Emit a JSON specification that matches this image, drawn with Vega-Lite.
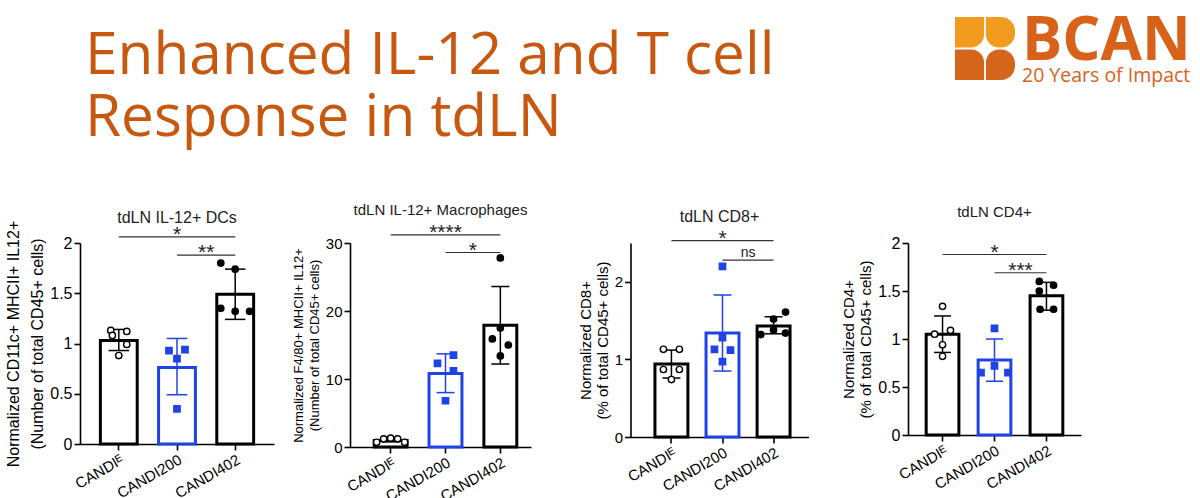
{
  "$schema": "https://vega.github.io/schema/vega-lite/v6.json",
  "background": "white",
  "padding": {"top": 11, "left": 5, "right": 5, "bottom": 0},
  "bounds": "flush",
  "spacing": 226,
  "config": {
    "view": {"stroke": null},
    "font": "Liberation Sans",
    "title": {"fontWeight": "normal", "fontSize": 16, "color": "#222222", "font": "Liberation Sans"},
    "axis": {"domainColor": "black", "domainWidth": 1.6, "tickColor": "black", "tickWidth": 1.6, "tickSize": 6, "labelColor": "black", "titleColor": "black", "grid": false, "labelFont": "Liberation Sans", "titleFont": "Liberation Sans", "titleFontWeight": "normal", "labelOverlap": false}
  },
  "datasets": {
    "bars": [
      {"panel": 1, "group": "CANDIᴱ", "mean": 1.03, "lo": 0.93, "hi": 1.14},
      {"panel": 1, "group": "CANDI200", "mean": 0.76, "lo": 0.49, "hi": 1.05},
      {"panel": 1, "group": "CANDI402", "mean": 1.49, "lo": 1.24, "hi": 1.74},
      {"panel": 2, "group": "CANDIᴱ", "mean": 0.95, "lo": 0.75, "hi": 1.15},
      {"panel": 2, "group": "CANDI200", "mean": 10.8, "lo": 8.0, "hi": 13.7},
      {"panel": 2, "group": "CANDI402", "mean": 17.9, "lo": 12.2, "hi": 23.6},
      {"panel": 3, "group": "CANDIᴱ", "mean": 0.94, "lo": 0.76, "hi": 1.12},
      {"panel": 3, "group": "CANDI200", "mean": 1.34, "lo": 0.85, "hi": 1.83},
      {"panel": 3, "group": "CANDI402", "mean": 1.43, "lo": 1.33, "hi": 1.55},
      {"panel": 4, "group": "CANDIᴱ", "mean": 1.05, "lo": 0.86, "hi": 1.24},
      {"panel": 4, "group": "CANDI200", "mean": 0.78, "lo": 0.56, "hi": 1.0},
      {"panel": 4, "group": "CANDI402", "mean": 1.45, "lo": 1.3, "hi": 1.59}
    ],
    "pts": [
      {"panel": 1, "group": "CANDIᴱ", "slot": -1, "value": 1.13},
      {"panel": 1, "group": "CANDIᴱ", "slot": -0.8, "value": 1.08},
      {"panel": 1, "group": "CANDIᴱ", "slot": 1, "value": 1.12},
      {"panel": 1, "group": "CANDIᴱ", "slot": 1, "value": 0.99},
      {"panel": 1, "group": "CANDIᴱ", "slot": 0, "value": 0.88},
      {"panel": 1, "group": "CANDI200", "slot": -1, "value": 0.93},
      {"panel": 1, "group": "CANDI200", "slot": 1, "value": 0.94},
      {"panel": 1, "group": "CANDI200", "slot": 0, "value": 0.85},
      {"panel": 1, "group": "CANDI200", "slot": 0, "value": 0.35},
      {"panel": 1, "group": "CANDI402", "slot": -1.8, "value": 1.8},
      {"panel": 1, "group": "CANDI402", "slot": 0, "value": 1.74},
      {"panel": 1, "group": "CANDI402", "slot": -1.8, "value": 1.35},
      {"panel": 1, "group": "CANDI402", "slot": 0, "value": 1.32},
      {"panel": 1, "group": "CANDI402", "slot": 1.8, "value": 1.32},
      {"panel": 2, "group": "CANDIᴱ", "slot": -1.75, "value": 0.7},
      {"panel": 2, "group": "CANDIᴱ", "slot": -0.875, "value": 1.2},
      {"panel": 2, "group": "CANDIᴱ", "slot": 0, "value": 1.3},
      {"panel": 2, "group": "CANDIᴱ", "slot": 0.875, "value": 1.2},
      {"panel": 2, "group": "CANDIᴱ", "slot": 1.75, "value": 0.7},
      {"panel": 2, "group": "CANDI200", "slot": -1, "value": 12.3},
      {"panel": 2, "group": "CANDI200", "slot": 1, "value": 13.5},
      {"panel": 2, "group": "CANDI200", "slot": 1, "value": 11.2},
      {"panel": 2, "group": "CANDI200", "slot": 0, "value": 6.8},
      {"panel": 2, "group": "CANDI402", "slot": 0, "value": 27.8},
      {"panel": 2, "group": "CANDI402", "slot": 0, "value": 17.5},
      {"panel": 2, "group": "CANDI402", "slot": -1, "value": 15.9},
      {"panel": 2, "group": "CANDI402", "slot": 1, "value": 15.0},
      {"panel": 2, "group": "CANDI402", "slot": 0, "value": 13.4},
      {"panel": 3, "group": "CANDIᴱ", "slot": -1, "value": 1.13},
      {"panel": 3, "group": "CANDIᴱ", "slot": 1, "value": 1.13},
      {"panel": 3, "group": "CANDIᴱ", "slot": -1, "value": 0.87},
      {"panel": 3, "group": "CANDIᴱ", "slot": 1, "value": 0.87},
      {"panel": 3, "group": "CANDIᴱ", "slot": 0, "value": 0.74},
      {"panel": 3, "group": "CANDI200", "slot": 0, "value": 2.2},
      {"panel": 3, "group": "CANDI200", "slot": 0, "value": 1.28},
      {"panel": 3, "group": "CANDI200", "slot": -1, "value": 1.13},
      {"panel": 3, "group": "CANDI200", "slot": 1, "value": 1.12},
      {"panel": 3, "group": "CANDI200", "slot": 0, "value": 0.97},
      {"panel": 3, "group": "CANDI402", "slot": 1.5, "value": 1.61},
      {"panel": 3, "group": "CANDI402", "slot": 0, "value": 1.52},
      {"panel": 3, "group": "CANDI402", "slot": -1.6, "value": 1.32},
      {"panel": 3, "group": "CANDI402", "slot": 0, "value": 1.38},
      {"panel": 3, "group": "CANDI402", "slot": 1.5, "value": 1.34},
      {"panel": 4, "group": "CANDIᴱ", "slot": 0, "value": 1.34},
      {"panel": 4, "group": "CANDIᴱ", "slot": -1, "value": 1.05},
      {"panel": 4, "group": "CANDIᴱ", "slot": 1, "value": 1.09},
      {"panel": 4, "group": "CANDIᴱ", "slot": 0, "value": 0.94},
      {"panel": 4, "group": "CANDIᴱ", "slot": 0, "value": 0.82},
      {"panel": 4, "group": "CANDI200", "slot": 0, "value": 1.11},
      {"panel": 4, "group": "CANDI200", "slot": 0, "value": 0.72},
      {"panel": 4, "group": "CANDI200", "slot": -1.7, "value": 0.65},
      {"panel": 4, "group": "CANDI200", "slot": 1.7, "value": 0.65},
      {"panel": 4, "group": "CANDI402", "slot": -0.9, "value": 1.6},
      {"panel": 4, "group": "CANDI402", "slot": 0.9, "value": 1.56},
      {"panel": 4, "group": "CANDI402", "slot": -0.9, "value": 1.5},
      {"panel": 4, "group": "CANDI402", "slot": -0.8, "value": 1.31},
      {"panel": 4, "group": "CANDI402", "slot": 0.9, "value": 1.31}
    ],
    "sig": [
      {"panel": 1, "a": "CANDIᴱ", "b": "CANDI402", "m": "CANDI200", "y": 2.06, "label": "*", "kind": "full"},
      {"panel": 1, "a": "CANDI200", "b": "CANDI402", "m": "CANDI200", "y": 1.88, "label": "**", "kind": "half"},
      {"panel": 2, "a": "CANDIᴱ", "b": "CANDI402", "m": "CANDI200", "y": 31.2, "label": "****", "kind": "full"},
      {"panel": 2, "a": "CANDI200", "b": "CANDI402", "m": "CANDI200", "y": 28.6, "label": "*", "kind": "half"},
      {"panel": 3, "a": "CANDIᴱ", "b": "CANDI402", "m": "CANDI200", "y": 2.53, "label": "*", "kind": "full"},
      {"panel": 3, "a": "CANDI200", "b": "CANDI402", "m": "CANDI200", "y": 2.28, "label": "ns", "kind": "half"},
      {"panel": 4, "a": "CANDIᴱ", "b": "CANDI402", "m": "CANDI200", "y": 1.88, "label": "*", "kind": "full"},
      {"panel": 4, "a": "CANDI200", "b": "CANDI402", "m": "CANDI200", "y": 1.69, "label": "***", "kind": "half"}
    ],
    "logo": [
      {"r": "a", "c": "a", "tone": "light", "pos": "tl"},
      {"r": "a", "c": "b", "tone": "light", "pos": "tr"},
      {"r": "b", "c": "a", "tone": "dark", "pos": "bl"},
      {"r": "b", "c": "b", "tone": "dark", "pos": "br"}
    ]
  },
  "vconcat": [
    {
      "bounds": "flush",
      "spacing": 10,
      "hconcat": [
        {
          "width": 865, "height": 63,
          "data": {"values": []},
          "mark": "text",
          "title": {"text": ["Enhanced IL-12 and T cell", "Response in tdLN"], "anchor": "start", "frame": "group", "baseline": "top", "offset": 0, "dy": 131, "dx": 5, "fontSize": 58.5, "lineHeight": 62, "color": "#C8580F", "font": "Open Sans", "fontWeight": "normal"}
        },
        {
          "width": 60, "height": 63,
          "data": {"name": "logo"},
          "encoding": {
            "x": {"field": "c", "type": "nominal", "axis": null, "scale": {"paddingInner": 0.06, "paddingOuter": 0}},
            "y": {"field": "r", "type": "nominal", "axis": null, "scale": {"paddingInner": 0.06, "paddingOuter": 0}},
            "color": {"field": "tone", "type": "nominal", "scale": {"domain": ["light", "dark"], "range": ["#F39B1F", "#D5651B"]}, "legend": null}
          },
          "layer": [
            {"transform": [{"filter": "datum.pos == 'tl'"}], "mark": {"type": "rect", "cornerRadiusBottomRight": 13}},
            {"transform": [{"filter": "datum.pos == 'tr'"}], "mark": {"type": "rect", "cornerRadiusBottomLeft": 13, "cornerRadiusTopRight": 14, "cornerRadiusBottomRight": 14}},
            {"transform": [{"filter": "datum.pos == 'bl'"}], "mark": {"type": "rect", "cornerRadiusTopRight": 13}},
            {"transform": [{"filter": "datum.pos == 'br'"}], "mark": {"type": "rect", "cornerRadiusTopLeft": 13, "cornerRadiusTopRight": 14, "cornerRadiusBottomRight": 14}}
          ]
        },
        {
          "width": 160, "height": 63,
          "data": {"values": []},
          "mark": "text",
          "title": {"text": "BCAN", "subtitle": "20 Years of Impact", "anchor": "start", "frame": "group", "baseline": "top", "offset": 0, "dy": 69, "dx": -3, "fontSize": 60, "fontWeight": "bold", "color": "#D9621B", "font": "Open Sans", "subtitleFont": "Open Sans", "subtitleFontSize": 19.5, "subtitleColor": "#D9621B", "subtitlePadding": -6}
        }
      ]
    },
    {
      "bounds": "flush",
      "spacing": 76,
      "hconcat": [
        {
          "width": 194, "height": 201,
          "title": {"text": "tdLN IL-12+ DCs", "offset": -6},
          "resolve": {"scale": {"xOffset": "independent"}},
          "layer": [
            {"data": {"name": "bars"}, "transform": [{"filter": "datum.panel == 1"}],
             "mark": {"type": "bar", "fill": "white", "strokeWidth": 3},
             "encoding": {
               "x": {"field": "group", "type": "nominal", "sort": ["CANDIᴱ", "CANDI200", "CANDI402"], "scale": {"domain": ["CANDIᴱ", "CANDI200", "CANDI402"], "paddingInner": 0.367, "paddingOuter": 0.35, "align": 0.5}, "axis": {"title": null, "labelAngle": -30, "labelFontSize": 15}},
               "y": {"field": "mean", "type": "quantitative", "scale": {"domain": [0, 2], "nice": false}, "axis": {"title": ["Normalized CD11c+ MHCII+ IL12+", "(Number of total CD45+ cells)"], "values": [0, 0.5, 1, 1.5, 2], "format": "~g", "labelFontSize": 16, "titleFontSize": 16, "titleLineHeight": 24}},
               "stroke": {"field": "group", "type": "nominal", "scale": {"domain": ["CANDIᴱ", "CANDI200", "CANDI402"], "range": ["#000000", "#1f43e5", "#000000"]}, "legend": null}
             }},
            {"data": {"name": "bars"}, "transform": [{"filter": "datum.panel == 1"}],
             "mark": {"type": "rule", "strokeWidth": 1.5},
             "encoding": {"x": {"field": "group", "type": "nominal"}, "y": {"field": "lo", "type": "quantitative"}, "y2": {"field": "hi"}, "stroke": {"field": "group", "type": "nominal", "legend": null}}},
            {"data": {"name": "bars"}, "transform": [{"filter": "datum.panel == 1"}],
             "mark": {"type": "point", "shape": "stroke", "size": 420, "strokeWidth": 1.5, "filled": false, "opacity": 1},
             "encoding": {"x": {"field": "group", "type": "nominal"}, "y": {"field": "hi", "type": "quantitative"}, "stroke": {"field": "group", "type": "nominal", "legend": null}}},
            {"data": {"name": "bars"}, "transform": [{"filter": "datum.panel == 1"}],
             "mark": {"type": "point", "shape": "stroke", "size": 420, "strokeWidth": 1.5, "filled": false, "opacity": 1},
             "encoding": {"x": {"field": "group", "type": "nominal"}, "y": {"field": "lo", "type": "quantitative"}, "stroke": {"field": "group", "type": "nominal", "legend": null}}},
            {"data": {"name": "pts"}, "transform": [{"filter": "datum.panel == 1"}],
             "mark": {"type": "point", "filled": true, "size": 40, "strokeWidth": 1.4, "opacity": 1},
             "encoding": {
               "x": {"field": "group", "type": "nominal"},
               "xOffset": {"field": "slot", "type": "quantitative", "scale": {"domain": [-2.3, 2.3], "range": [0, 36.8]}},
               "y": {"field": "value", "type": "quantitative"},
               "shape": {"field": "group", "type": "nominal", "scale": {"domain": ["CANDIᴱ", "CANDI200", "CANDI402"], "range": ["circle", "square", "circle"]}, "legend": null},
               "fill": {"field": "group", "type": "nominal", "scale": {"domain": ["CANDIᴱ", "CANDI200", "CANDI402"], "range": ["#ffffff", "#1f43e5", "#000000"]}, "legend": null},
               "stroke": {"field": "group", "type": "nominal", "legend": null}
             }},
            {"data": {"name": "sig"}, "transform": [{"filter": "datum.panel == 1"}],
             "mark": {"type": "rule", "strokeWidth": 1.2, "color": "#333333"},
             "encoding": {"x": {"field": "a", "type": "nominal"}, "x2": {"field": "b"}, "y": {"field": "y", "type": "quantitative"}}},
            {"data": {"name": "sig"}, "transform": [{"filter": "datum.panel == 1 && datum.kind == 'full'"}],
             "mark": {"type": "text", "fontSize": 21, "baseline": "alphabetic", "dy": 4, "color": "#222222"},
             "encoding": {"x": {"field": "m", "type": "nominal"}, "y": {"field": "y", "type": "quantitative"}, "text": {"field": "label"}}},
            {"data": {"name": "sig"}, "transform": [{"filter": "datum.panel == 1 && datum.kind == 'half'"}],
             "mark": {"type": "text", "fontSize": 21, "baseline": "alphabetic", "dy": 4, "color": "#222222"},
             "encoding": {"x": {"field": "m", "type": "nominal", "bandPosition": 1.294}, "y": {"field": "y", "type": "quantitative"}, "text": {"field": "label"}}}
          ]
        },
        {
          "bounds": "flush",
          "spacing": 99.5,
          "hconcat": [
            {
              "width": 181, "height": 204,
              "title": {"text": "tdLN IL-12+ Macrophages", "offset": 4, "fontSize": 15},
              "resolve": {"scale": {"xOffset": "independent"}},
              "layer": [
                {"data": {"name": "bars"}, "transform": [{"filter": "datum.panel == 2"}],
                 "mark": {"type": "bar", "fill": "white", "strokeWidth": 3},
                 "encoding": {
                   "x": {"field": "group", "type": "nominal", "sort": ["CANDIᴱ", "CANDI200", "CANDI402"], "scale": {"domain": ["CANDIᴱ", "CANDI200", "CANDI402"], "paddingInner": 0.4, "paddingOuter": 0.35, "align": 0.63}, "axis": {"title": null, "labelAngle": -30, "labelFontSize": 15}},
                   "y": {"field": "mean", "type": "quantitative", "scale": {"domain": [0, 30], "nice": false}, "axis": {"title": ["Normalized F4/80+ MHCII+ IL12+", "(Number of total CD45+ cells)"], "values": [0, 10, 20, 30], "format": "~g", "labelFontSize": 15, "titleFontSize": 13, "titleLineHeight": 16}},
                   "stroke": {"field": "group", "type": "nominal", "scale": {"domain": ["CANDIᴱ", "CANDI200", "CANDI402"], "range": ["#000000", "#1f43e5", "#000000"]}, "legend": null}
                 }},
                {"data": {"name": "bars"}, "transform": [{"filter": "datum.panel == 2"}],
                 "mark": {"type": "rule", "strokeWidth": 1.5},
                 "encoding": {"x": {"field": "group", "type": "nominal"}, "y": {"field": "lo", "type": "quantitative"}, "y2": {"field": "hi"}, "stroke": {"field": "group", "type": "nominal", "legend": null}}},
                {"data": {"name": "bars"}, "transform": [{"filter": "datum.panel == 2"}],
                 "mark": {"type": "point", "shape": "stroke", "size": 324, "strokeWidth": 1.5, "filled": false, "opacity": 1},
                 "encoding": {"x": {"field": "group", "type": "nominal"}, "y": {"field": "hi", "type": "quantitative"}, "stroke": {"field": "group", "type": "nominal", "legend": null}}},
                {"data": {"name": "bars"}, "transform": [{"filter": "datum.panel == 2"}],
                 "mark": {"type": "point", "shape": "stroke", "size": 324, "strokeWidth": 1.5, "filled": false, "opacity": 1},
                 "encoding": {"x": {"field": "group", "type": "nominal"}, "y": {"field": "lo", "type": "quantitative"}, "stroke": {"field": "group", "type": "nominal", "legend": null}}},
                {"data": {"name": "pts"}, "transform": [{"filter": "datum.panel == 2"}],
                 "mark": {"type": "point", "filled": true, "size": 40, "strokeWidth": 1.4, "opacity": 1},
                 "encoding": {
                   "x": {"field": "group", "type": "nominal"},
                   "xOffset": {"field": "slot", "type": "quantitative", "scale": {"domain": [-2.06, 2.06], "range": [0, 32.9]}},
                   "y": {"field": "value", "type": "quantitative"},
                   "shape": {"field": "group", "type": "nominal", "scale": {"domain": ["CANDIᴱ", "CANDI200", "CANDI402"], "range": ["circle", "square", "circle"]}, "legend": null},
                   "fill": {"field": "group", "type": "nominal", "scale": {"domain": ["CANDIᴱ", "CANDI200", "CANDI402"], "range": ["#ffffff", "#1f43e5", "#000000"]}, "legend": null},
                   "stroke": {"field": "group", "type": "nominal", "legend": null}
                 }},
                {"data": {"name": "sig"}, "transform": [{"filter": "datum.panel == 2"}],
                 "mark": {"type": "rule", "strokeWidth": 1.2, "color": "#333333"},
                 "encoding": {"x": {"field": "a", "type": "nominal"}, "x2": {"field": "b"}, "y": {"field": "y", "type": "quantitative"}}},
                {"data": {"name": "sig"}, "transform": [{"filter": "datum.panel == 2 && datum.kind == 'full'"}],
                 "mark": {"type": "text", "fontSize": 21, "baseline": "alphabetic", "dy": 4, "color": "#222222"},
                 "encoding": {"x": {"field": "m", "type": "nominal"}, "y": {"field": "y", "type": "quantitative"}, "text": {"field": "label"}}},
                {"data": {"name": "sig"}, "transform": [{"filter": "datum.panel == 2 && datum.kind == 'half'"}],
                 "mark": {"type": "text", "fontSize": 21, "baseline": "alphabetic", "dy": 4, "color": "#222222"},
                 "encoding": {"x": {"field": "m", "type": "nominal", "bandPosition": 1.333}, "y": {"field": "y", "type": "quantitative"}, "text": {"field": "label"}}}
              ]
            },
            {
              "width": 178, "height": 194,
              "title": {"text": "tdLN CD8+", "offset": 3},
              "resolve": {"scale": {"xOffset": "independent"}},
              "layer": [
                {"data": {"name": "bars"}, "transform": [{"filter": "datum.panel == 3"}],
                 "mark": {"type": "bar", "fill": "white", "strokeWidth": 3},
                 "encoding": {
                   "x": {"field": "group", "type": "nominal", "sort": ["CANDIᴱ", "CANDI200", "CANDI402"], "scale": {"domain": ["CANDIᴱ", "CANDI200", "CANDI402"], "paddingInner": 0.355, "paddingOuter": 0.42, "align": 0.57}, "axis": {"title": null, "labelAngle": -30, "labelFontSize": 15}},
                   "y": {"field": "mean", "type": "quantitative", "scale": {"domain": [0, 2.5], "nice": false}, "axis": {"title": ["Normalized CD8+", "(% of total CD45+ cells)"], "values": [0, 0.5, 1, 1.5, 2, 2.5], "format": "~g", "labelFontSize": 15, "titleFontSize": 15, "titleLineHeight": 17}},
                   "stroke": {"field": "group", "type": "nominal", "scale": {"domain": ["CANDIᴱ", "CANDI200", "CANDI402"], "range": ["#000000", "#1f43e5", "#000000"]}, "legend": null}
                 }},
                {"data": {"name": "bars"}, "transform": [{"filter": "datum.panel == 3"}],
                 "mark": {"type": "rule", "strokeWidth": 1.5},
                 "encoding": {"x": {"field": "group", "type": "nominal"}, "y": {"field": "lo", "type": "quantitative"}, "y2": {"field": "hi"}, "stroke": {"field": "group", "type": "nominal", "legend": null}}},
                {"data": {"name": "bars"}, "transform": [{"filter": "datum.panel == 3"}],
                 "mark": {"type": "point", "shape": "stroke", "size": 324, "strokeWidth": 1.5, "filled": false, "opacity": 1},
                 "encoding": {"x": {"field": "group", "type": "nominal"}, "y": {"field": "hi", "type": "quantitative"}, "stroke": {"field": "group", "type": "nominal", "legend": null}}},
                {"data": {"name": "bars"}, "transform": [{"filter": "datum.panel == 3"}],
                 "mark": {"type": "point", "shape": "stroke", "size": 324, "strokeWidth": 1.5, "filled": false, "opacity": 1},
                 "encoding": {"x": {"field": "group", "type": "nominal"}, "y": {"field": "lo", "type": "quantitative"}, "stroke": {"field": "group", "type": "nominal", "legend": null}}},
                {"data": {"name": "pts"}, "transform": [{"filter": "datum.panel == 3"}],
                 "mark": {"type": "point", "filled": true, "size": 40, "strokeWidth": 1.4, "opacity": 1},
                 "encoding": {
                   "x": {"field": "group", "type": "nominal"},
                   "xOffset": {"field": "slot", "type": "quantitative", "scale": {"domain": [-2.06, 2.06], "range": [0, 32.9]}},
                   "y": {"field": "value", "type": "quantitative"},
                   "shape": {"field": "group", "type": "nominal", "scale": {"domain": ["CANDIᴱ", "CANDI200", "CANDI402"], "range": ["circle", "square", "circle"]}, "legend": null},
                   "fill": {"field": "group", "type": "nominal", "scale": {"domain": ["CANDIᴱ", "CANDI200", "CANDI402"], "range": ["#ffffff", "#1f43e5", "#000000"]}, "legend": null},
                   "stroke": {"field": "group", "type": "nominal", "legend": null}
                 }},
                {"data": {"name": "sig"}, "transform": [{"filter": "datum.panel == 3"}],
                 "mark": {"type": "rule", "strokeWidth": 1.2, "color": "#333333"},
                 "encoding": {"x": {"field": "a", "type": "nominal"}, "x2": {"field": "b"}, "y": {"field": "y", "type": "quantitative"}}},
                {"data": {"name": "sig"}, "transform": [{"filter": "datum.panel == 3 && datum.kind == 'full'"}],
                 "mark": {"type": "text", "fontSize": 21, "baseline": "alphabetic", "dy": 4, "color": "#222222"},
                 "encoding": {"x": {"field": "m", "type": "nominal"}, "y": {"field": "y", "type": "quantitative"}, "text": {"field": "label"}}},
                {"data": {"name": "sig"}, "transform": [{"filter": "datum.panel == 3 && datum.kind == 'half'"}],
                 "mark": {"type": "text", "fontSize": 14, "baseline": "alphabetic", "dy": -3, "color": "#222222"},
                 "encoding": {"x": {"field": "m", "type": "nominal", "bandPosition": 1.275}, "y": {"field": "y", "type": "quantitative"}, "text": {"field": "label"}}}
              ]
            },
            {
              "width": 173, "height": 192,
              "title": {"text": "tdLN CD4+", "offset": 15, "fontSize": 15},
              "resolve": {"scale": {"xOffset": "independent"}},
              "layer": [
                {"data": {"name": "bars"}, "transform": [{"filter": "datum.panel == 4"}],
                 "mark": {"type": "bar", "fill": "white", "strokeWidth": 3},
                 "encoding": {
                   "x": {"field": "group", "type": "nominal", "sort": ["CANDIᴱ", "CANDI200", "CANDI402"], "scale": {"domain": ["CANDIᴱ", "CANDI200", "CANDI402"], "paddingInner": 0.37, "paddingOuter": 0.35, "align": 0.5}, "axis": {"title": null, "labelAngle": -30, "labelFontSize": 15}},
                   "y": {"field": "mean", "type": "quantitative", "scale": {"domain": [0, 2], "nice": false}, "axis": {"title": ["Normalized CD4+", "(% of total CD45+ cells)"], "values": [0, 0.5, 1, 1.5, 2], "format": "~g", "labelFontSize": 16, "titleFontSize": 15, "titleLineHeight": 17}},
                   "stroke": {"field": "group", "type": "nominal", "scale": {"domain": ["CANDIᴱ", "CANDI200", "CANDI402"], "range": ["#000000", "#1f43e5", "#000000"]}, "legend": null}
                 }},
                {"data": {"name": "bars"}, "transform": [{"filter": "datum.panel == 4"}],
                 "mark": {"type": "rule", "strokeWidth": 1.5},
                 "encoding": {"x": {"field": "group", "type": "nominal"}, "y": {"field": "lo", "type": "quantitative"}, "y2": {"field": "hi"}, "stroke": {"field": "group", "type": "nominal", "legend": null}}},
                {"data": {"name": "bars"}, "transform": [{"filter": "datum.panel == 4"}],
                 "mark": {"type": "point", "shape": "stroke", "size": 289, "strokeWidth": 1.5, "filled": false, "opacity": 1},
                 "encoding": {"x": {"field": "group", "type": "nominal"}, "y": {"field": "hi", "type": "quantitative"}, "stroke": {"field": "group", "type": "nominal", "legend": null}}},
                {"data": {"name": "bars"}, "transform": [{"filter": "datum.panel == 4"}],
                 "mark": {"type": "point", "shape": "stroke", "size": 289, "strokeWidth": 1.5, "filled": false, "opacity": 1},
                 "encoding": {"x": {"field": "group", "type": "nominal"}, "y": {"field": "lo", "type": "quantitative"}, "stroke": {"field": "group", "type": "nominal", "legend": null}}},
                {"data": {"name": "pts"}, "transform": [{"filter": "datum.panel == 4"}],
                 "mark": {"type": "point", "filled": true, "size": 40, "strokeWidth": 1.4, "opacity": 1},
                 "encoding": {
                   "x": {"field": "group", "type": "nominal"},
                   "xOffset": {"field": "slot", "type": "quantitative", "scale": {"domain": [-2.06, 2.06], "range": [0, 32.7]}},
                   "y": {"field": "value", "type": "quantitative"},
                   "shape": {"field": "group", "type": "nominal", "scale": {"domain": ["CANDIᴱ", "CANDI200", "CANDI402"], "range": ["circle", "square", "circle"]}, "legend": null},
                   "fill": {"field": "group", "type": "nominal", "scale": {"domain": ["CANDIᴱ", "CANDI200", "CANDI402"], "range": ["#ffffff", "#1f43e5", "#000000"]}, "legend": null},
                   "stroke": {"field": "group", "type": "nominal", "legend": null}
                 }},
                {"data": {"name": "sig"}, "transform": [{"filter": "datum.panel == 4"}],
                 "mark": {"type": "rule", "strokeWidth": 1.2, "color": "#333333"},
                 "encoding": {"x": {"field": "a", "type": "nominal"}, "x2": {"field": "b"}, "y": {"field": "y", "type": "quantitative"}}},
                {"data": {"name": "sig"}, "transform": [{"filter": "datum.panel == 4 && datum.kind == 'full'"}],
                 "mark": {"type": "text", "fontSize": 21, "baseline": "alphabetic", "dy": 4, "color": "#222222"},
                 "encoding": {"x": {"field": "m", "type": "nominal"}, "y": {"field": "y", "type": "quantitative"}, "text": {"field": "label"}}},
                {"data": {"name": "sig"}, "transform": [{"filter": "datum.panel == 4 && datum.kind == 'half'"}],
                 "mark": {"type": "text", "fontSize": 21, "baseline": "alphabetic", "dy": 4, "color": "#222222"},
                 "encoding": {"x": {"field": "m", "type": "nominal", "bandPosition": 1.294}, "y": {"field": "y", "type": "quantitative"}, "text": {"field": "label"}}}
              ]
            }
          ]
        }
      ]
    }
  ]
}
